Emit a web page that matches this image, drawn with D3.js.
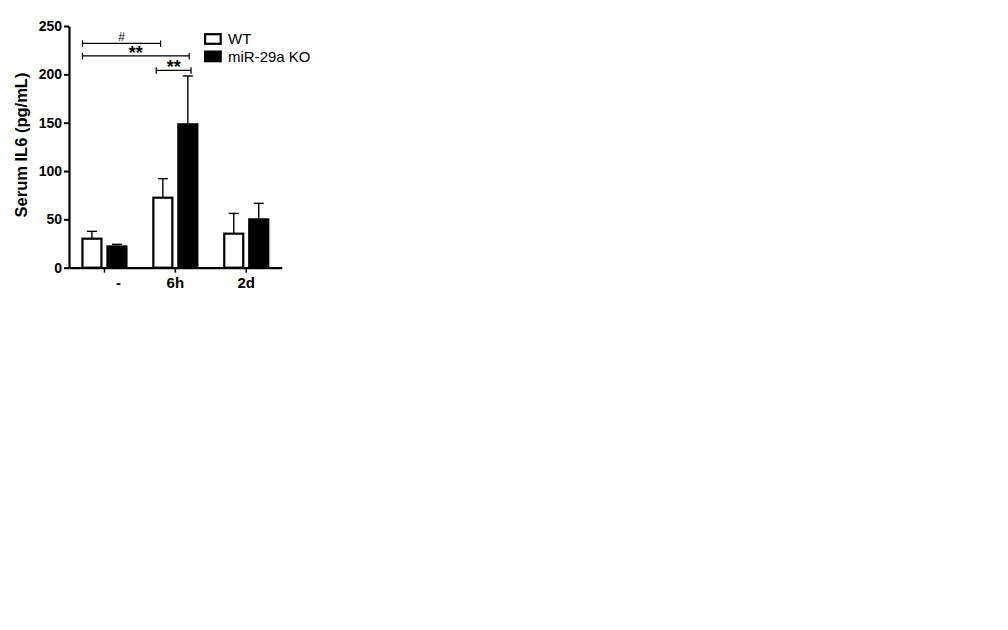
<!DOCTYPE html>
<html>
<head>
<meta charset="utf-8">
<script src="https://cdn.jsdelivr.net/npm/d3@7"></script>
<style>
    body { margin: 0; background: #fff; }
    svg text { font-family: Arial, "Liberation Sans", sans-serif; fill: #000; }
</style>
</head>
<body>
<div id="chart"></div>
<script>
// data
var categories = ["-", "6h", "2d"];
var seriesNames = ["WT", "miR-29a KO"];
var wtValues = [30, 72.4, 35.2];
var wtErrors = [7.6, 19.7, 21];
var koValues = [22, 148.3, 50];
var koErrors = [2.2, 50, 16.6];
var yTicks = [0, 50, 100, 150, 200, 250];
// significance brackets: category/series of both ends, height in pg/mL
var brackets = [
    {label: "#", from: ["-", "WT", 0], to: ["6h", "WT", 0.38], level: 232},
    {label: "**", from: ["-", "WT", 0], to: ["6h", "miR-29a KO", 0.57], level: 219},
    {label: "**", from: ["6h", "WT", 0.15], to: ["6h", "miR-29a KO", 0.67], level: 204.2}
];

var svg = d3.select("#chart").append("svg")
    .attr("width", 1008)
    .attr("height", 630);

var x0 = d3.scaleBand().domain(categories).range([69, 281.7]);
var x1 = d3.scaleBand().domain(seriesNames).range([-22, 22]).paddingInner(0.24);
var y = d3.scaleLinear().domain([0, 250]).range([267.7, 26]);

var rows = [];
categories.forEach(function (c, i) {
    rows.push({cat: c, series: "WT", value: wtValues[i], err: wtErrors[i], fill: "#fff"});
    rows.push({cat: c, series: "miR-29a KO", value: koValues[i], err: koErrors[i], fill: "#000"});
});

function barX(cat, series) {
    return x0(cat) + x0.bandwidth() / 2 + x1(series);
}

// error bars (upper only), drawn before bars so the stem starts at the bar top
var errs = svg.append("g").attr("class", "errors");
rows.forEach(function (d) {
    var cx = barX(d.cat, d.series) + x1.bandwidth() / 2;
    errs.append("line")
        .attr("x1", cx).attr("x2", cx)
        .attr("y1", y(d.value)).attr("y2", y(d.value + d.err))
        .attr("stroke", "#000").attr("stroke-width", 1.4);
    errs.append("line")
        .attr("x1", cx - 5).attr("x2", cx + 5)
        .attr("y1", y(d.value + d.err)).attr("y2", y(d.value + d.err))
        .attr("stroke", "#000").attr("stroke-width", 1.4);
});

svg.append("g").attr("class", "bars")
    .selectAll("rect")
    .data(rows)
    .enter().append("rect")
    .attr("x", function (d) { return barX(d.cat, d.series); })
    .attr("y", function (d) { return y(d.value); })
    .attr("width", x1.bandwidth())
    .attr("height", function (d) { return y(0) - y(d.value); })
    .attr("fill", function (d) { return d.fill; })
    .attr("stroke", "#000")
    .attr("stroke-width", 2.2);

// y axis
var yAxis = svg.append("g")
    .attr("transform", "translate(69,0)")
    .call(d3.axisLeft(y).tickValues(yTicks).tickSize(5).tickSizeOuter(0));
yAxis.select(".domain").attr("stroke-width", 2.2);
yAxis.selectAll(".tick line").attr("stroke-width", 2);
yAxis.selectAll(".tick text")
    .attr("x", -7)
    .style("font-size", "14px")
    .style("font-weight", "bold")
    .style("font-family", "Arial, 'Liberation Sans', sans-serif");

// x axis
var xAxis = svg.append("g")
    .attr("transform", "translate(0,267.7)")
    .call(d3.axisBottom(x0).tickSize(5).tickSizeOuter(0));
xAxis.select(".domain").attr("stroke-width", 2.2);
xAxis.selectAll(".tick line").attr("stroke-width", 1.5);
xAxis.selectAll(".tick text")
    .attr("y", 10)
    .attr("dy", "0.71em")
    // the "-" label sits right of its tick in the original
    .attr("dx", function (d, i) { return i === 0 ? 14 : 0; })
    .style("font-size", "15px")
    .style("font-weight", "bold")
    .style("font-family", "Arial, 'Liberation Sans', sans-serif");

svg.append("text")
    .attr("transform", "translate(26.7,145) rotate(-90)")
    .attr("text-anchor", "middle")
    .style("font-size", "16.5px")
    .style("font-weight", "bold")
    .text("Serum IL6 (pg/mL)");

// significance brackets
var sig = svg.append("g").attr("class", "brackets");
brackets.forEach(function (b) {
    var xa = barX(b.from[0], b.from[1]) + b.from[2] * x1.bandwidth();
    var xb = barX(b.to[0], b.to[1]) + b.to[2] * x1.bandwidth();
    var yy = y(b.level);
    sig.append("line")
        .attr("x1", xa).attr("x2", xb).attr("y1", yy).attr("y2", yy)
        .attr("stroke", "#000").attr("stroke-width", 1.2);
    [xa, xb].forEach(function (xe) {
        sig.append("line")
            .attr("x1", xe).attr("x2", xe).attr("y1", yy - 3).attr("y2", yy + 3.5)
            .attr("stroke", "#000").attr("stroke-width", 1.2);
    });
    sig.append("text")
        .attr("x", (xa + xb) / 2)
        .attr("y", b.label === "#" ? yy - 2.4 : yy + 3)
        .attr("text-anchor", "middle")
        .style("font-size", b.label === "#" ? "12px" : "18px")
        .style("font-weight", b.label === "#" ? "normal" : "bold")
        .text(b.label);
});

// legend
var legend = svg.append("g").attr("class", "legend");
seriesNames.forEach(function (name, i) {
    legend.append("rect")
        .attr("x", 205.1)
        .attr("y", 34.2 + i * 17.4)
        .attr("width", 15.6)
        .attr("height", 9.6)
        .attr("fill", i === 0 ? "#fff" : "#000")
        .attr("stroke", "#000")
        .attr("stroke-width", 2.2);
    legend.append("text")
        .attr("x", 228)
        .attr("y", 43.5 + i * 18)
        .style("font-size", "15px")
        .text(name);
});
</script>
</body>
</html>
